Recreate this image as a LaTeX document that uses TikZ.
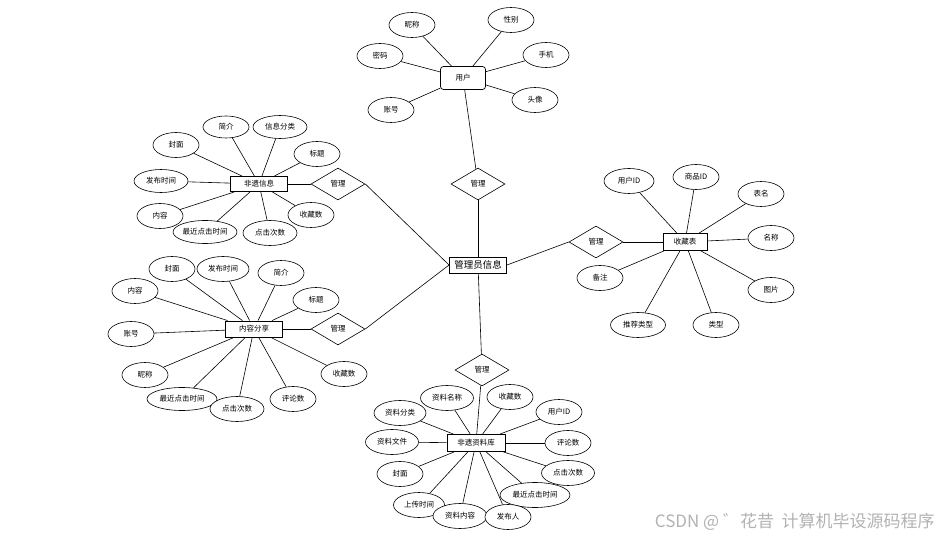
\documentclass[tikz,border=0pt]{standalone}
\usepackage{fontspec}
\setmainfont{Noto Sans CJK SC}
\usetikzlibrary{shapes.geometric}

\begin{document}
\begin{tikzpicture}[x=1pt, y=-1pt, line width=0.6pt,
  every node/.style={font=\fontsize{7.5}{8}\selectfont, inner sep=0pt},
  attr/.style={ellipse, draw, fill=white, minimum width=46pt, minimum height=25pt},
  ent/.style={rectangle, draw, fill=white, line width=0.9pt, minimum width=57pt, minimum height=16pt},
  rel/.style={diamond, draw, fill=white, minimum width=54pt, minimum height=32pt}]
  \useasboundingbox (0,0) rectangle (940,537);
  % user
  \node[ent, rounded corners=3pt, line width=0.7pt, minimum width=45pt, minimum height=23pt] (user) at (463,78) {用户};
  \node[attr] (unick) at (412,25) {昵称};
  \node[attr] (usex) at (511,20) {性别};
  \node[attr] (upwd) at (380,56) {密码};
  \node[attr] (uphone) at (546,55) {手机};
  \node[attr] (uavatar) at (535,100) {头像};
  \node[attr] (uacct) at (391,110) {账号};
  \node[rel] (rel1) at (478,184) {管理};
  \node[ent, font=\fontsize{9.5}{11}\selectfont] (admin) at (478,265) {管理员信息};
  % heritage info
  \node[ent, minimum height=15pt] (info) at (259,184) {非遗信息};
  \node[rel] (rel2) at (338,184) {管理};
  \node[attr] (icover) at (176,145) {封面};
  \node[attr, minimum height=22pt] (iintro) at (226,127) {简介};
  \node[attr, minimum width=54pt, minimum height=23pt] (icat) at (280,127) {信息分类};
  \node[attr] (ititle) at (317,154) {标题};
  \node[attr, minimum width=54pt, minimum height=23pt] (ipub) at (161,181) {发布时间};
  \node[attr] (icontent) at (160,216) {内容};
  \node[attr, minimum width=64pt, minimum height=23pt] (ilast) at (205,232) {最近点击时间};
  \node[attr, minimum width=54pt] (iclick) at (270,233) {点击次数};
  \node[attr] (ifav) at (311,215) {收藏数};
  % content share
  \node[ent] (share) at (254,329) {内容分享};
  \node[rel] (rel3) at (338,329) {管理};
  \node[attr] (scover) at (172,269) {封面};
  \node[attr, minimum width=52pt] (spub) at (223,269) {发布时间};
  \node[attr] (sintro) at (281,273) {简介};
  \node[attr] (scontent) at (135,291) {内容};
  \node[attr] (stitle) at (316,300) {标题};
  \node[attr] (sacct) at (131,334) {账号};
  \node[attr] (snick) at (145,375) {昵称};
  \node[attr, minimum width=70pt, minimum height=23pt] (slast) at (182,399) {最近点击时间};
  \node[attr, minimum width=54pt] (sclick) at (237,409) {点击次数};
  \node[attr] (scomm) at (293,399) {评论数};
  \node[attr] (sfav) at (344,374) {收藏数};
  % favourites
  \node[ent, minimum width=44pt, minimum height=17pt] (fav) at (685,242) {收藏表};
  \node[rel] (rel4) at (596,242) {管理};
  \node[attr, minimum width=50pt] (fuid) at (629,181) {用户ID};
  \node[attr] (fgid) at (696,177) {商品ID};
  \node[attr] (ftab) at (761,194) {表名};
  \node[attr] (fname) at (771,238) {名称};
  \node[attr] (fimg) at (771,290) {图片};
  \node[attr] (ftype) at (716,325) {类型};
  \node[attr, minimum width=55pt] (frec) at (638,325) {推荐类型};
  \node[attr] (fnote) at (600,278) {备注};
  % heritage library
  \node[rel] (rel5) at (482,370) {管理};
  \node[ent, minimum width=58pt, minimum height=17pt] (lib) at (476,443) {非遗资料库};
  \node[attr, minimum width=53pt] (lname) at (447,398) {资料名称};
  \node[attr] (lfav) at (510,397) {收藏数};
  \node[attr, minimum width=52pt] (lcat) at (400,413) {资料分类};
  \node[attr] (luid) at (559,412) {用户ID};
  \node[attr, minimum width=53pt] (lfile) at (392,442) {资料文件};
  \node[attr] (lcomm) at (568,443) {评论数};
  \node[attr] (lcover) at (400,474) {封面};
  \node[attr, minimum width=53pt] (lclick) at (568,473) {点击次数};
  \node[attr, minimum width=70pt] (llast) at (535,495) {最近点击时间};
  \node[attr, minimum width=51pt] (lup) at (419,505) {上传时间};
  \node[attr, minimum width=54pt] (lcontent) at (460,516) {资料内容};
  \node[attr] (lauthor) at (508,517) {发布人};
  % relations
  \draw (user) -- (rel1);
  \draw (rel1) -- (admin);
  \draw (info) -- (rel2);
  \draw (rel2.east) -- (admin.west);
  \draw (share) -- (rel3);
  \draw (rel3.east) -- (admin.west);
  \draw (admin.east) -- (rel4.west);
  \draw (rel4) -- (fav);
  \draw (admin) -- (rel5);
  \draw (rel5) -- (lib);
  % user attributes
  \draw (unick) -- (user);
  \draw (usex) -- (user);
  \draw (upwd) -- (user);
  \draw (uphone) -- (user);
  \draw (uavatar) -- (user);
  \draw (uacct) -- (user);
  % info attributes
  \draw (icover) -- (info);
  \draw (iintro) -- (info);
  \draw (icat) -- (info);
  \draw (ititle) -- (info);
  \draw (ipub) -- (info);
  \draw (icontent) -- (info);
  \draw (ilast) -- (info);
  \draw (iclick) -- (info);
  \draw (ifav) -- (info);
  % share attributes
  \draw (scover) -- (share);
  \draw (spub) -- (share);
  \draw (sintro) -- (share);
  \draw (scontent) -- (share);
  \draw (stitle) -- (share);
  \draw (sacct) -- (share);
  \draw (snick) -- (share);
  \draw (slast) -- (share);
  \draw (sclick) -- (share);
  \draw (scomm) -- (share);
  \draw (sfav) -- (share);
  % favourite attributes
  \draw (fuid) -- (fav);
  \draw (fgid) -- (fav);
  \draw (ftab) -- (fav);
  \draw (fname) -- (fav);
  \draw (fimg) -- (fav);
  \draw (ftype) -- (fav);
  \draw (frec) -- (fav);
  \draw (fnote) -- (fav);
  % library attributes
  \draw (lname) -- (lib);
  \draw (lfav) -- (lib);
  \draw (lcat) -- (lib);
  \draw (luid) -- (lib);
  \draw (lfile) -- (lib);
  \draw (lcomm) -- (lib);
  \draw (lcover) -- (lib);
  \draw (lclick) -- (lib);
  \draw (llast) -- (lib);
  \draw (lup) -- (lib);
  \draw (lcontent) -- (lib);
  \draw (lauthor) -- (lib);
  \node[text=black!30, anchor=east, font=\fontsize{17}{19}\selectfont] (mark) at (935,522) {CSDN @ ゛花昔\ \ 计算机毕设源码程序};
\end{tikzpicture}
\end{document}
